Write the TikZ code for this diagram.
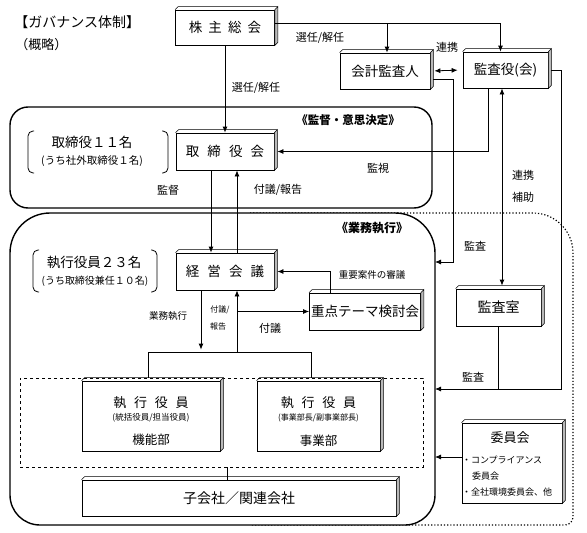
\documentclass[tikz,border=0pt]{standalone}
\usepackage{fontspec}
\setmainfont{Noto Sans CJK JP}
\usetikzlibrary{arrows.meta,calc,positioning}

\newcommand{\fsz}[1]{\fontsize{#1}{#1}\selectfont}
\newcommand{\gap}[1][0.6em]{\hspace{#1}}

\tikzset{
  box/.style={draw, fill=white, inner sep=0pt, align=center, font=\fsz{13.5}},
  lbl/.style={inner sep=0pt, font=\fsz{11}},
  smalllbl/.style={inner sep=0pt, font=\fsz{9.5}},
  tinylbl/.style={inner sep=0pt, font=\fsz{8}},
  arr/.style={-{Latex[length=6pt,width=5pt]}},
  darr/.style={{Latex[length=6pt,width=5pt]}-{Latex[length=6pt,width=5pt]}},
  frame/.style={line width=1.4pt},
  bevel/.style={fill=gray!55, line width=0.6pt},
}

\begin{document}
\begin{tikzpicture}[x=1pt, y=-1pt, line width=0.8pt]
  \useasboundingbox (0,0) rectangle (587,533);

  \node[anchor=west, inner sep=0pt, font=\fsz{14}] (ttl) at (14,22) {【ガバナンス体制】};
  \node[anchor=west, inner sep=0pt, font=\fsz{13}] (ttlsub) at (15,45) {（概略）};

  % frames
  \draw[dotted, line width=1.2pt, rounded corners=40pt] (250,213) -- (573,213) -- (573,420);
  \draw[dotted, line width=1.2pt, rounded corners=8pt] (573,419) -- (573,525) -- (250,525);
  \draw[frame, rounded corners=18pt] (10,107) rectangle (432,208);
  \filldraw[frame, fill=white, rounded corners=40pt] (10,380) -- (10,213) -- (435,213) -- (435,380)
    [rounded corners=30pt] -- (435,525) -- (10,525) -- cycle;
  \node[inner sep=0pt, font=\bfseries\fsz{11.5}] (supT) at (348,120) {《監督・意思決定》};
  \node[inner sep=0pt, font=\bfseries\fsz{12}] (execT) at (372,228) {《業務執行》};

  % boxes
  \node[box, minimum width=99pt, minimum height=35pt] (kabu) at (225,27.5) {株\gap[0.45em]主\gap[0.45em]総\gap[0.45em]会};
  \node[box, minimum width=90pt, minimum height=36pt] (kaikei) at (385,71) {会計監査人};
  \node[box, minimum width=85pt, minimum height=36pt] (kansa) at (505.5,70) {監査役(会)};
  \node[box, minimum width=98pt, minimum height=37pt] (tori) at (225,151.5) {取\gap 締\gap 役\gap 会};
  \node[box, minimum width=98pt, minimum height=37pt] (keiei) at (225,271.5) {経\gap 営\gap 会\gap 議};
  \node[box, minimum width=111pt, minimum height=37pt] (juten) at (365,311.5) {重点テーマ検討会};
  \node[box, minimum width=85pt, minimum height=37pt, font=\fsz{14}] (kanshitsu) at (498.5,307.5) {監査室};
  \node[draw, dashed, minimum width=403pt, minimum height=89pt, inner sep=0pt] (grp) at (221.5,422.5) {};
  \node[box, minimum width=138pt, minimum height=70pt] (exec1) at (151,416) {};
  \node[box, minimum width=123pt, minimum height=70pt] (exec2) at (318.5,416) {};
  \node[box, minimum width=314pt, minimum height=36pt, font=\fsz{14}] (kogaisha) at (239,498) {子会社／関連会社};
  \node[box, minimum width=100pt, minimum height=80pt] (iin) at (512,463) {};

  \foreach \n in {kabu,kaikei,kansa,tori,keiei,juten,kanshitsu,exec1,exec2,kogaisha,iin}{
    \filldraw[bevel] (\n.north east) -- ++(3,-3) -- ([shift={(3,-3)}]\n.south east) -- (\n.south east) -- cycle;
    \draw[line width=0.6pt] (\n.north west) -- ++(3,-3) -- ([shift={(3,-3)}]\n.north east);
  }

  % box texts
  \node[inner sep=0pt, font=\fsz{13}] (e1a) at ([yshift=-22pt]exec1.north) {執\gap 行\gap 役\gap 員};
  \node[inner sep=0pt, font=\fsz{8.5}] (e1b) at ([yshift=-37pt]exec1.north) {(統括役員/担当役員)};
  \node[inner sep=0pt, font=\fsz{12.5}] (e1c) at ([yshift=-59pt]exec1.north) {機能部};
  \node[inner sep=0pt, font=\fsz{13}] (e2a) at ([yshift=-22pt]exec2.north) {執\gap 行\gap 役\gap 員};
  \node[inner sep=0pt, font=\fsz{8}] (e2b) at ([yshift=-37pt]exec2.north) {(事業部長/副事業部長)};
  \node[inner sep=0pt, font=\fsz{12.5}] (e2c) at ([yshift=-60pt]exec2.north) {事業部};
  \node[inner sep=0pt, font=\fsz{13}] (iinT) at ([xshift=-2pt,yshift=-15pt]iin.north) {委員会};
  \node[inner sep=0pt, anchor=west, font=\fsz{9}] (iin1) at ([yshift=-37pt]iin.north west) {・コンプライアンス};
  \node[inner sep=0pt, anchor=west, font=\fsz{9}] (iin2) at ([xshift=10pt,yshift=-53pt]iin.north west) {委員会};
  \node[inner sep=0pt, anchor=west, font=\fsz{9}] (iin3) at ([yshift=-69pt]iin.north west) {・全社環境委員会、他};

  % brackets
  \node[inner sep=0pt, font=\fsz{13.5}] (torinum) at (92,142) {取締役１１名};
  \node[inner sep=0pt, font=\fsz{10.5}] (torisub) at (92,161) {(うち社外取締役１名)};
  \draw[rounded corners=5pt] (34,131) -- (28,131) -- (28,173) -- (34,173);
  \draw[rounded corners=5pt] (162,131) -- (168,131) -- (168,173) -- (162,173);
  \node[inner sep=0pt, font=\fsz{13.5}] (execnum) at (94,262) {執行役員２３名};
  \node[inner sep=0pt, font=\fsz{10}] (execsub) at (95,281) {(うち取締役兼任１０名)};
  \draw[rounded corners=5pt] (39,250) -- (33,250) -- (33,292) -- (39,292);
  \draw[rounded corners=5pt] (151,250) -- (157,250) -- (157,292) -- (151,292);

  % connectors
  \coordinate (top) at ([yshift=4.5pt]kabu.east);
  \draw[arr] (top) -| ([xshift=-5pt]kansa.north);
  \draw[arr] ([xshift=2pt]kaikei.north |- top) -- ([xshift=2pt]kaikei.north);
  \draw[arr] (kabu.south) -- (tori.north);
  \draw[darr, shorten <=4pt, shorten >=5pt] (kaikei.east) -- (kansa.west);
  \draw[arr] ([xshift=-17.5pt]kansa.south) |- ([xshift=3pt]tori.east);
  \draw[darr] ([xshift=-3.5pt]kansa.south) -- ([xshift=3.5pt,yshift=3pt]kanshitsu.north);
  \draw[arr] ([xshift=-14pt]tori.south) -- ([xshift=-14pt]keiei.north);
  \draw[arr] ([xshift=12pt]keiei.north) -- ([xshift=12pt]tori.south);

  \coordinate (br) at ([yshift=25pt]grp.north);
  \draw ([xshift=-3pt]exec1.north |- grp.north) -- ([xshift=-3pt]exec1.north |- br)
    -| ([xshift=-7.5pt]exec2.north |- grp.north);
  \draw[arr] ([xshift=-24pt]keiei.south) -- ([xshift=-24pt,yshift=3pt]keiei.south |- br);
  \draw[arr] ([xshift=12pt]keiei.south |- br) -- ([xshift=12pt]keiei.south);
  \draw[arr] ([xshift=12pt]keiei.south |- juten.west) -- (juten.west);
  \draw[arr] ([xshift=-35pt]juten.north) |- ([xshift=3pt]keiei.east);
  \draw ([xshift=-12pt]kogaisha.north |- grp.south) -- ([xshift=-12pt]kogaisha.north);

  \coordinate (audA) at (435,262);
  \coordinate (audB) at (435,389);
  \coordinate (audC) at (435,457);
  \draw[arr] ([xshift=3pt,yshift=-8pt]kaikei.east) -- ++(20,0) |- (audA);
  \draw[arr] ([xshift=3pt]kansa.east) -- ++(10,0) |- (audB);
  \draw (kanshitsu.south) -- (kanshitsu.south |- audB);
  \draw[arr] ([yshift=6pt]iin.west) -- (audC);

  % labels
  \node[lbl] (selA) at (320,38) {選任/解任};
  \node[lbl] (selB) at (256,88) {選任/解任};
  \node[lbl] (renA) at (447,47) {連携};
  \node[lbl] (kantoku) at (168,190) {監督};
  \node[lbl] (fugiA) at (278,190) {付議/報告};
  \node[lbl] (kanshi) at (378,168) {監視};
  \node[lbl] (renB) at (523,175) {連携};
  \node[lbl] (hojo) at (523,197) {補助};
  \node[lbl] (audLA) at (475,246) {監査};
  \node[lbl] (audLB) at (473,377) {監査};
  \node[smalllbl] (shingi) at (372,275) {重要案件の審議};
  \node[lbl] (fugiB) at (270,328) {付議};
  \node[smalllbl] (gyomu) at (168,316) {業務執行};
  \node[tinylbl] (fugiC) at (220,310) {付議/};
  \node[tinylbl] (hokoku) at (218,326) {報告};
\end{tikzpicture}
\end{document}
